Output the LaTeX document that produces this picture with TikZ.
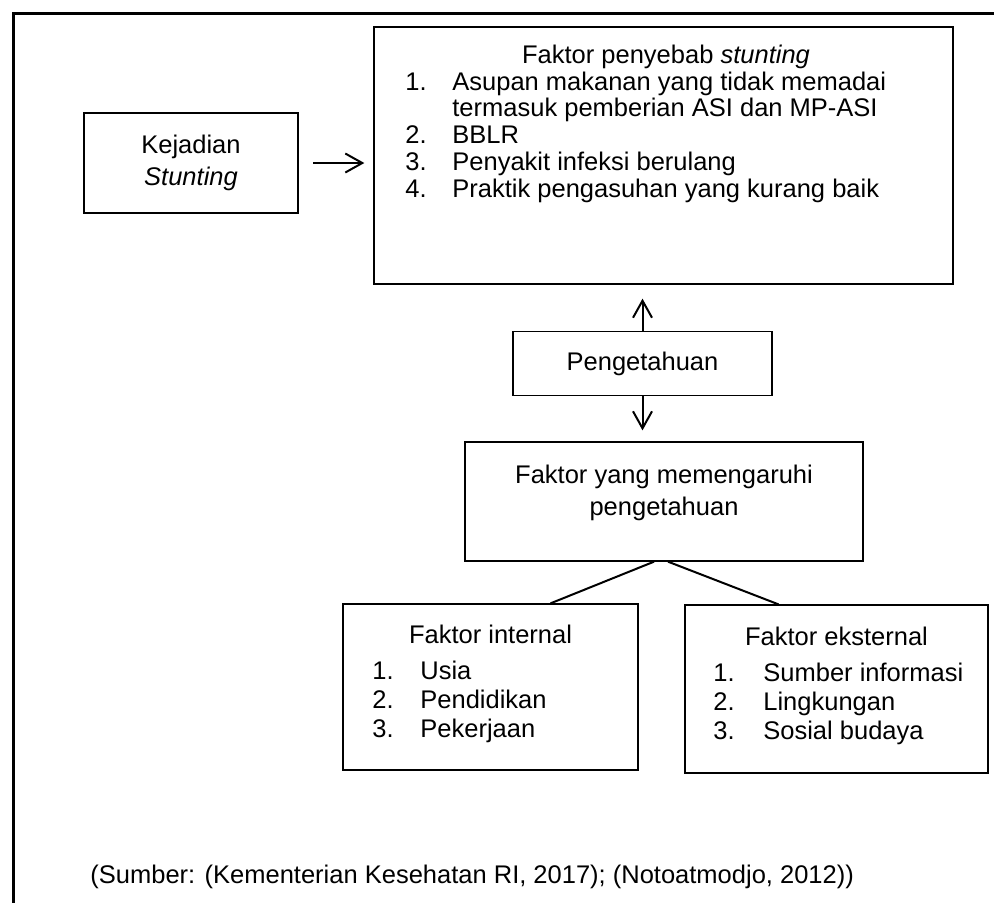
\documentclass[tikz,border=0pt]{standalone}
\usepackage{fontspec}
\setmainfont{Liberation Sans}
\usetikzlibrary{arrows.meta}

\newcommand{\nomor}[2][23.5pt]{\makebox[#1][l]{#2}}

\begin{document}
\begin{tikzpicture}[x=0.5pt,y=-0.5pt,
    kotak/.style={draw,line width=0.65pt,inner sep=0pt},
    teks/.style={inner sep=0pt,font=\fontsize{12.75}{16}\selectfont},
    daftar/.style={inner sep=0pt,font=\fontsize{12.75}{13.4}\selectfont},
    panah/.style={line width=1pt,-{Straight Barb[length=8.5pt,width=9.5pt]}}]
    \useasboundingbox (0,0) rectangle (994,902);

    % bingkai luar
    \draw[line width=1.5pt] (13.5,930) |- (1010,13.5);

    % Kejadian stunting
    \node[kotak,line width=1pt,minimum width=107pt,minimum height=50pt,teks,align=center] (kejadian) at (191,163) {Kejadian\\\textit{Stunting}};

    % Faktor penyebab
    \node[kotak,minimum width=289.5pt,minimum height=128.5pt] (sebab) at (663.5,155.5) {};
    \node[teks,anchor=base] (sebabjudul) at (666,63) {Faktor penyebab \textit{stunting}};
    \node[daftar,anchor=base west] (sebablist) at (405,90) {\begin{tabular}[t]{@{}l@{}}
        \nomor{1.}Asupan makanan yang tidak memadai\\
        \hspace*{23.5pt}termasuk pemberian ASI dan MP-ASI\\
        \nomor{2.}BBLR\\
        \nomor{3.}Penyakit infeksi berulang\\
        \nomor{4.}Praktik pengasuhan yang kurang baik
    \end{tabular}};

    % Pengetahuan
    \node[kotak,line width=0.8pt,minimum width=129.5pt,minimum height=32pt,teks] (tahu) at (642.5,363.5) {Pengetahuan};

    % Faktor yang memengaruhi
    \node[kotak,minimum width=199pt,minimum height=59.5pt] (pengaruh) at (664,501.5) {};
    \node[teks,anchor=base] (pengaruhteks) at (664,483) {\begin{tabular}[t]{@{}c@{}}
        Faktor yang memengaruhi\\pengetahuan
    \end{tabular}};

    % Faktor internal
    \node[kotak,minimum width=147.5pt,minimum height=83pt] (intern) at (490.5,687) {};
    \node[teks,anchor=base] (internjudul) at (490.5,643) {Faktor internal};
    \node[daftar,font=\fontsize{12.75}{14.5}\selectfont,anchor=base west] (internlist) at (372,679) {\begin{tabular}[t]{@{}l@{}}
        \nomor[24pt]{1.}Usia\\
        \nomor[24pt]{2.}Pendidikan\\
        \nomor[24pt]{3.}Pekerjaan
    \end{tabular}};

    % Faktor eksternal
    \node[kotak,minimum width=151.5pt,minimum height=84pt] (ekstern) at (836.5,689) {};
    \node[teks,anchor=base] (eksternjudul) at (836.5,645) {Faktor eksternal};
    \node[daftar,font=\fontsize{12.75}{14.5}\selectfont,anchor=base west] (eksternlist) at (713,681) {\begin{tabular}[t]{@{}l@{}}
        \nomor[25pt]{1.}Sumber informasi\\
        \nomor[25pt]{2.}Lingkungan\\
        \nomor[25pt]{3.}Sosial budaya
    \end{tabular}};

    % panah dan garis
    \draw[panah] ([xshift=7pt]kejadian.east) -- ([xshift=-4.5pt]sebab.west |- kejadian.east);
    \draw[panah] (tahu.north) -- ([yshift=-7pt]sebab.south -| tahu.north);
    \draw[panah] (tahu.south) -- ([yshift=5.5pt]pengaruh.north -| tahu.south);
    \draw[line width=1pt] ([xshift=-5pt]pengaruh.south) -- ([xshift=30pt]intern.north);
    \draw[line width=1pt] ([xshift=2pt]pengaruh.south) -- ([xshift=-29pt]ekstern.north);

    % sumber
    \node[teks,anchor=base west] (sumber) at (90,883) {(Sumber: (Kementerian Kesehatan RI, 2017); (Notoatmodjo, 2012))};
\end{tikzpicture}
\end{document}
